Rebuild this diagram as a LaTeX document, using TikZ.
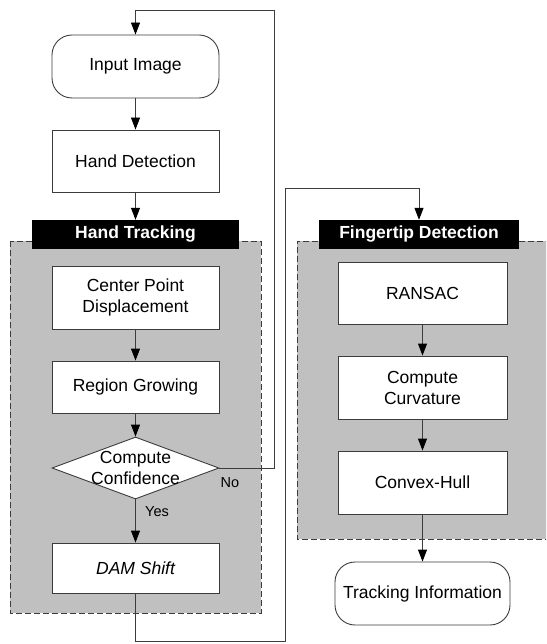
\documentclass[tikz,border=0pt]{standalone}
\usepackage{fontspec}
\setmainfont{Liberation Sans}
\usetikzlibrary{arrows.meta,shapes.geometric}
\definecolor{boxgray}{RGB}{192,192,192}
\definecolor{linegray}{RGB}{60,60,60}

\begin{document}
\begin{tikzpicture}[x=1pt,y=-1pt]
      \tikzstyle{every node}+=[inner sep=0pt, font=\fontsize{17.5}{21}\selectfont]
      \tikzstyle{procbox}=[draw=linegray, fill=white, line width=0.9pt, minimum width=167pt, align=center]
      \tikzstyle{termbox}=[procbox, rounded corners=20pt]
      \tikzstyle{decide}=[diamond, draw=linegray, fill=white, line width=0.9pt, minimum width=167pt, minimum height=62pt]
      \tikzstyle{headbox}=[fill=black, text=white, minimum height=29pt, font=\fontsize{17.5}{21}\selectfont\bfseries]
      \tikzstyle{group}=[fill=boxgray, draw=linegray, line width=0.9pt, dash pattern=on 6pt off 3pt]
      \tikzstyle{flow}=[draw=linegray, line width=0.9pt, -{Triangle[length=12pt,width=9pt,color=black]}]
      \tikzstyle{tag}=[font=\fontsize{14.5}{17}\selectfont]
      \useasboundingbox (0,0) rectangle (546,644);
      \clip (0,0) rectangle (546,644);
      % grey groups
      \fill [boxgray] (10,241) rectangle (261,613);
      \draw [group, fill=none] (10,241) rectangle (261,613);
      \fill [boxgray] (297,241) rectangle (552,539);
      \draw [group, fill=none] (552,241) -- (297,241) -- (297,539) -- (552,539);
      % left column
      \node [termbox, minimum height=63pt] (input) at (135.5,66.5) {Input Image};
      \node [procbox, minimum height=62pt] (detect) at (135.5,161) {Hand Detection};
      \node [headbox, minimum width=207pt] (trackhead) at (135.5,234.5) {Hand Tracking};
      \node [procbox, minimum height=63pt] (cpd) at (135.5,297.5) {Center Point\\Displacement};
      \node [procbox, minimum height=52pt] (region) at (135.5,387) {Region Growing};
      \node [decide] (conf) at (135.5,468) {};
      \node [align=center] (conftext) at (conf) {Compute\\Confidence};
      \node [procbox, minimum height=50pt, font=\fontsize{17.5}{21}\selectfont\itshape] (dam) at (135.5,568) {DAM Shift};
      \node [tag] (yes) at (157,512) {Yes};
      \node [tag] (no) at (230,483) {No};
      % right column
      \node [headbox, minimum width=200pt] (fingerhead) at (419,234.5) {Fingertip Detection};
      \node [procbox, minimum width=169pt, minimum height=62pt] (ransac) at (422.5,293) {RANSAC};
      \node [procbox, minimum width=169pt, minimum height=63pt] (curv) at (422.5,387.5) {Compute\\Curvature};
      \node [procbox, minimum width=169pt, minimum height=63pt] (convex) at (422.5,482.5) {Convex-Hull};
      \node [termbox, minimum width=175pt, minimum height=63pt] (info) at (422.5,593.5) {Tracking Information};
      % connectors
      \coordinate (noturn) at (274,10);
      \coordinate (damlow) at (285,641);
      \coordinate (damtop) at (285,188);
      \draw [flow] (input) -- (detect);
      \draw [flow] (detect) -- (trackhead);
      \draw [flow] (cpd) -- (region);
      \draw [flow] (region) -- (conf);
      \draw [flow] (conf) -- (dam);
      \draw [flow] (conf.east) -| (noturn) -| (input.north);
      \draw [flow] (dam.south) |- (damlow) -- (damtop) -| (fingerhead.north);
      \draw [flow] (ransac) -- (curv);
      \draw [flow] (curv) -- (convex);
      \draw [flow] (convex.south) -- (info.north);
    \end{tikzpicture}
\end{document}
